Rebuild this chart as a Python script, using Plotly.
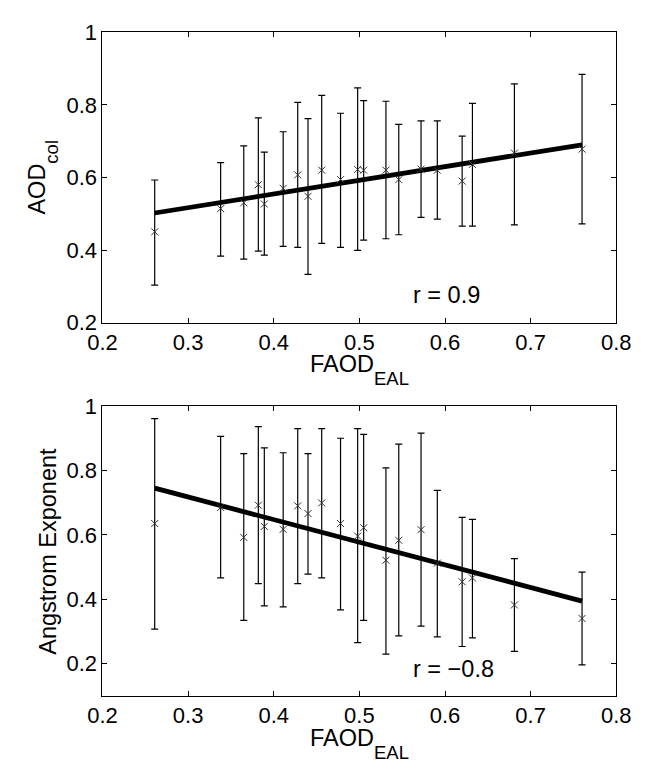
import plotly.graph_objects as go

# FAOD bin centres (shared by both panels)
faod = [0.261, 0.338, 0.365, 0.382, 0.389, 0.411, 0.428, 0.440, 0.456, 0.478,
        0.498, 0.505, 0.531, 0.546, 0.572, 0.591, 0.620, 0.632, 0.681, 0.760]

# Column AOD: mean with upper / lower bounds of the error bars
aod_mean = [0.450, 0.514, 0.530, 0.580, 0.527, 0.570, 0.607, 0.548, 0.620, 0.594,
            0.622, 0.620, 0.620, 0.594, 0.623, 0.620, 0.590, 0.636, 0.667, 0.678]
aod_upper = [0.593, 0.641, 0.687, 0.764, 0.670, 0.726, 0.807, 0.762, 0.826, 0.777,
             0.847, 0.812, 0.810, 0.746, 0.756, 0.756, 0.714, 0.804, 0.858, 0.884]
aod_lower = [0.303, 0.383, 0.375, 0.397, 0.386, 0.410, 0.407, 0.333, 0.418, 0.407,
             0.399, 0.427, 0.431, 0.442, 0.490, 0.485, 0.466, 0.466, 0.469, 0.472]

# Angstrom exponent: mean with upper / lower bounds
ang_mean = [0.635, 0.685, 0.592, 0.692, 0.626, 0.617, 0.690, 0.666, 0.699, 0.635,
            0.596, 0.622, 0.521, 0.583, 0.616, 0.512, 0.454, 0.466, 0.382, 0.340]
ang_upper = [0.961, 0.906, 0.852, 0.936, 0.870, 0.855, 0.930, 0.852, 0.930, 0.900,
             0.930, 0.912, 0.808, 0.882, 0.916, 0.738, 0.654, 0.648, 0.526, 0.484]
ang_lower = [0.307, 0.466, 0.334, 0.448, 0.379, 0.376, 0.448, 0.478, 0.466, 0.367,
             0.265, 0.334, 0.229, 0.286, 0.316, 0.283, 0.253, 0.280, 0.238, 0.196]

# Linear fits (end points)
fit_x = [0.261, 0.760]
aod_fit = [0.502, 0.690]
ang_fit = [0.745, 0.394]

r_labels = ["r = 0.9", "r = \u22120.8"]
x_ticks = [0.2, 0.3, 0.4, 0.5, 0.6, 0.7, 0.8]
y_ticks = [0.2, 0.4, 0.6, 0.8, 1.0]

FONT = "Liberation Sans, Arial, Helvetica, sans-serif"
W, H = 648, 769


def py(px):
    return 1 - px / H


def subscripted(main, sub):
    # larger, lower subscript than plotly's default <sub>
    return (f"{main}<span style='font-size:18.5px;baseline-shift:-13px'>"
            f"{sub}</span>")


fig = go.Figure()

panels = [
    (aod_mean, aod_upper, aod_lower, aod_fit, "x", "y"),
    (ang_mean, ang_upper, ang_lower, ang_fit, "x2", "y2"),
]
for mean, up, lo, fit, xa, ya in panels:
    fig.add_trace(go.Scatter(
        x=fit_x, y=fit, mode="lines", xaxis=xa, yaxis=ya,
        line=dict(color="black", width=4.8), showlegend=False, hoverinfo="skip"))
    fig.add_trace(go.Scatter(
        x=faod, y=mean, mode="markers", xaxis=xa, yaxis=ya,
        marker=dict(symbol="x-thin", size=7, line=dict(width=1, color="#333")),
        error_y=dict(type="data", symmetric=False,
                     array=[u - m for u, m in zip(up, mean)],
                     arrayminus=[m - l for m, l in zip(mean, lo)],
                     color="black", thickness=1.2, width=3.5),
        showlegend=False))

xdom = [91.7 / W, 630.5 / W]
axis_common = dict(
    showline=True, linecolor="black", linewidth=1, mirror="ticks",
    ticks="inside", ticklen=5, tickwidth=1, tickcolor="black",
    showgrid=False, zeroline=False,
    tickfont=dict(family=FONT, size=22, color="black"),
)

fig.update_layout(
    width=W, height=H,
    margin=dict(l=0, r=0, t=0, b=0),
    paper_bgcolor="white", plot_bgcolor="white",
    xaxis=dict(domain=xdom, range=[0.2, 0.8], tickvals=x_ticks,
               ticktext=[f"{v:.1f}" for v in x_ticks], anchor="y", **axis_common),
    yaxis=dict(domain=[py(321), py(21)], range=[0.2, 1.0], tickvals=y_ticks,
               ticktext=["0.2", "0.4", "0.6", "0.8", "1"], anchor="x", **axis_common),
    xaxis2=dict(domain=xdom, range=[0.2, 0.8], tickvals=x_ticks,
                ticktext=[f"{v:.1f}" for v in x_ticks], anchor="y2", **axis_common),
    yaxis2=dict(domain=[py(706.7), py(407.3)], range=[0.1, 1.0], tickvals=y_ticks,
                ticktext=["0.2", "0.4", "0.6", "0.8", "1"], anchor="x2", **axis_common),
)

tfont = dict(family=FONT, size=23.5, color="black")
xc = (xdom[0] + xdom[1]) / 2
annotations = [
    dict(text=subscripted("FAOD", "EAL"), x=xc, y=py(348), xref="paper", yref="paper",
         xanchor="center", yanchor="top", showarrow=False, font=tfont),
    dict(text=subscripted("FAOD", "EAL"), x=xc, y=py(735), xref="paper", yref="paper",
         xanchor="center", yanchor="top", showarrow=False, font=tfont),
    dict(text=subscripted("AOD", "col"), x=29.5 / W, y=py(171), xref="paper", yref="paper",
         xanchor="center", yanchor="middle", textangle=-90, showarrow=False, font=tfont),
    dict(text="Angstrom Exponent", x=34.5 / W, y=py(557), xref="paper", yref="paper",
         xanchor="center", yanchor="middle", textangle=-90, showarrow=False, font=tfont),
    dict(text=r_labels[0], x=0.560, y=0.277, xref="x", yref="y",
         xanchor="left", yanchor="middle", showarrow=False, font=tfont),
    dict(text=r_labels[1], x=0.560, y=0.182, xref="x2", yref="y2",
         xanchor="left", yanchor="middle", showarrow=False, font=tfont),
]
fig.update_layout(annotations=annotations)

fig.write_html("out.html")
